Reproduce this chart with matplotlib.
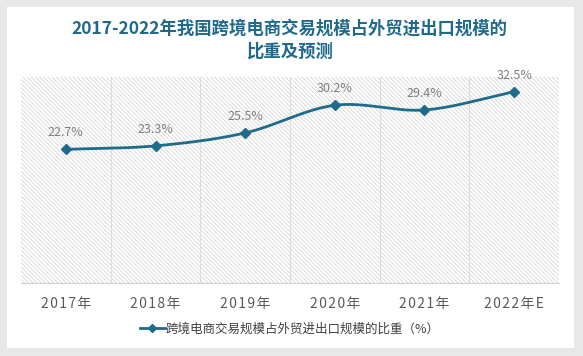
import numpy as np
import matplotlib
matplotlib.use('Agg')
import matplotlib.pyplot as plt
from matplotlib.patches import Rectangle

plt.rcParams['font.family'] = ['Noto Sans CJK SC', 'DejaVu Sans']
plt.rcParams['hatch.linewidth'] = 0.5

years = ['2017年', '2018年', '2019年', '2020年', '2021年', '2022年E']
share = [22.7, 23.3, 25.5, 30.2, 29.4, 32.5]
series_name = '跨境电商交易规模占外贸进出口规模的比重（%）'
title = '2017-2022年我国跨境电商交易规模占外贸进出口规模的\n比重及预测'

line_color = '#1f6b8c'
title_color = '#1f6a8a'


def smooth(xs, ys, steps=30):
    # catmull-rom through the points, roughly like Excel's smoothed line
    xs = np.asarray(xs, float)
    ys = np.asarray(ys, float)
    px = np.concatenate([[2 * xs[0] - xs[1]], xs, [2 * xs[-1] - xs[-2]]])
    py = np.concatenate([[2 * ys[0] - ys[1]], ys, [2 * ys[-1] - ys[-2]]])
    out_x, out_y = [], []
    for i in range(1, len(px) - 2):
        t = np.linspace(0, 1, steps)
        for p, out in ((px, out_x), (py, out_y)):
            p0, p1, p2, p3 = p[i - 1], p[i], p[i + 1], p[i + 2]
            out.extend(0.5 * (2 * p1 + (-p0 + p2) * t
                              + (2 * p0 - 5 * p1 + 4 * p2 - p3) * t ** 2
                              + (-p0 + 3 * p1 - 3 * p2 + p3) * t ** 3))
    return out_x, out_y


def spaced(s):
    # a bit of letter spacing like the original
    return '\u200a'.join(s)


fig = plt.figure(figsize=(5.83, 3.56), dpi=100, facecolor='#e8e8e8')
fig.add_artist(Rectangle((7 / 583, 8 / 356), 567 / 583, 341 / 356,
                         transform=fig.transFigure, facecolor='white',
                         edgecolor='none', zorder=0))

ax = fig.add_axes([21 / 583, 73 / 356, 538 / 583, 206 / 356])
ax.set_facecolor('white')
x = np.arange(len(years))
ax.set_xlim(-0.5, len(years) - 0.5)
ax.set_ylim(0, 35)

ax.add_patch(Rectangle((0, 0), 1, 1, transform=ax.transAxes, facecolor='white',
                       edgecolor='#cecece', hatch='\\' * 8, linewidth=0, zorder=0))
for b in np.arange(0.5, len(years) - 0.5):
    ax.axvline(b, color='#dcdcdc', linewidth=0.8, zorder=1)

sx, sy = smooth(x, share)
ax.plot(sx, sy, color=line_color, linewidth=2, zorder=3)
ax.plot(x, share, linestyle='none', marker='D', markersize=5.5, color=line_color, zorder=4)
ax.plot([], [], color=line_color, linewidth=2, marker='D', markersize=4, label=series_name)

for xi, v in zip(x, share):
    ax.annotate(f'{v}%', (xi, v), xytext=(0, 12), textcoords='offset points',
                ha='center', va='center', fontsize=9, color='#7f7f7f')

for s in ['left', 'right', 'top']:
    ax.spines[s].set_visible(False)
ax.spines['bottom'].set_color('#d0d0d0')
ax.set_yticks([])
ax.set_xticks(x)
ax.set_xticklabels([spaced(y) for y in years], fontsize=10, color='#595959')
ax.tick_params(axis='x', length=0, pad=10)

fig.text(0.497, 1 - 40 / 356, title, ha='center', va='center', fontsize=12.5,
         fontweight='bold', color=title_color, linespacing=1.3)

fig.legend(loc='center', bbox_to_anchor=(0.497, 1 - 329 / 356), frameon=False,
           fontsize=9, handlelength=2.0, handletextpad=0.1, labelcolor='#404040')

fig.savefig('out.png', dpi=100, facecolor=fig.get_facecolor())
